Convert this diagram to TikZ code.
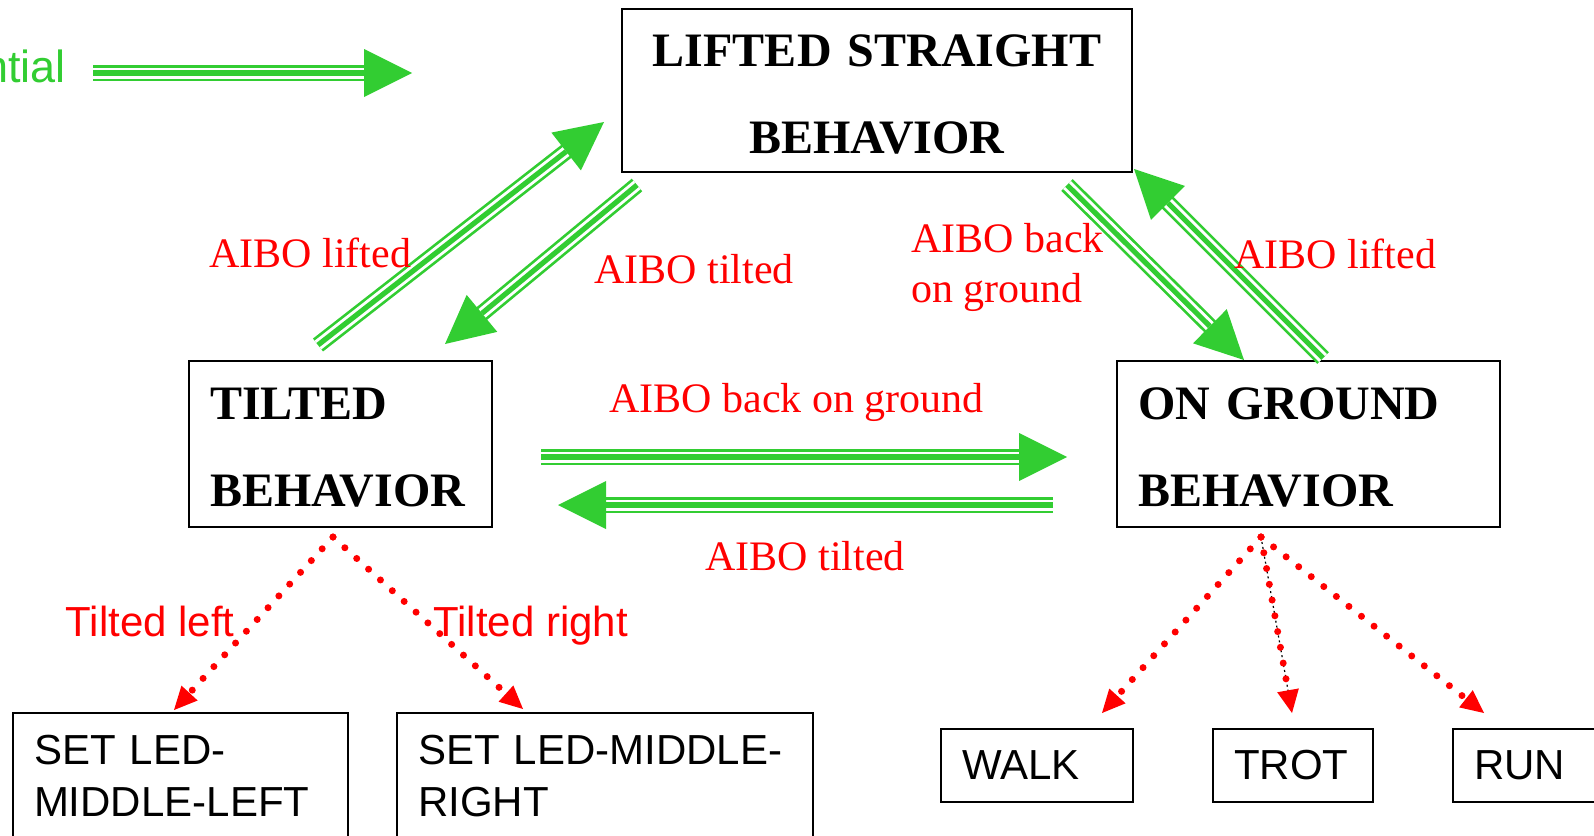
\documentclass[tikz,border=0pt]{standalone}
\usepackage{fontspec}
\setmainfont{Liberation Serif}
\setsansfont{Liberation Sans}
\usetikzlibrary{arrows.meta,calc}
\definecolor{agreen}{RGB}{50,205,50}
\newcommand{\capraise}{\rule{0pt}{19.8pt}}
\begin{document}
\begin{tikzpicture}[x=0.5pt,y=-0.5pt,
  bigbox/.style={draw=black, line width=1pt, inner xsep=10.5pt, inner ysep=0pt, outer sep=0pt,
    font=\bfseries\fontsize{24}{43.5}\selectfont},
  smallbox/.style={draw=black, line width=1pt, inner xsep=10.5pt, inner ysep=11pt, outer sep=0pt,
    align=left, font=\sffamily\fontsize{21}{26}\selectfont},
  lblserif/.style={text=red, inner sep=0pt, font=\fontsize{21}{25}\selectfont},
  lblsans/.style={text=red, inner sep=0pt, font=\sffamily\fontsize{21}{25}\selectfont},
  tri/.style={agreen, line width=2.6pt, -{Triangle[length=24pt,width=24pt,line width=0pt]},
    preaction={draw=agreen, -, line width=8.2pt, shorten >=22pt},
    preaction={draw=white, -, line width=5.5pt, shorten >=22pt}},
  dots/.style={red, line width=3.5pt, line cap=round, dash pattern=on 0pt off 8pt,
    -{Triangle[length=11.5pt,width=11pt,line width=0pt]}}
]
\useasboundingbox (0,0) rectangle (1594,835);

% main behaviour boxes
\node[bigbox, minimum width=255pt, minimum height=81.5pt, text width=234pt, align=center]
  (lifted) at (877,90.5) {\capraise LIFTED STRAIGHT\\BEHAVIOR};
\node[bigbox, minimum width=151.5pt, minimum height=83pt, text width=130.5pt, align=left]
  (tilted) at (340.5,444) {\capraise TILTED\\BEHAVIOR};
\node[bigbox, minimum width=191.5pt, minimum height=83pt, text width=170.5pt, align=left]
  (ground) at (1308.5,444) {\capraise ON GROUND\\BEHAVIOR};

% action boxes
\node[smallbox, anchor=north west, text width=146.5pt] (setleft) at (13,713) {SET LED-\\MIDDLE-LEFT};
\node[smallbox, anchor=north west, text width=187pt] (setright) at (397,713) {SET LED-MIDDLE-\\RIGHT};
\node[smallbox, inner ysep=0pt, minimum height=36.5pt, text width=75pt] (walk) at (1037,765.5) {WALK};
\node[smallbox, inner ysep=0pt, minimum height=36.5pt, text width=59pt] (trot) at (1293,765.5) {TROT};
\node[smallbox, inner ysep=0pt, minimum height=36.5pt, text width=64pt] (run) at (1538,765.5) {RUN};

% legend
\node[anchor=base east, inner sep=0pt, text=agreen, font=\sffamily\fontsize{22.5}{27}\selectfont]
  (legend) at (66,82) {ntial};

% connector end points
\coordinate (a0s) at (93,73);    \coordinate (a0e) at (412,73);
\coordinate (a1s) at (318,345);  \coordinate (a1e) at (604,122);
\coordinate (a2s) at (637,185);  \coordinate (a2e) at (445,344);
\coordinate (a3s) at (1067,185); \coordinate (a3e) at (1244,360);
\coordinate (a4s) at (1323,358); \coordinate (a4e) at (1134,169);
\coordinate (a5s) at (541,457);  \coordinate (a5e) at (1067,457);
\coordinate (a6s) at (1053,505); \coordinate (a6e) at (558,505);

\draw[tri] (a0s) -- (a0e);
\draw[tri] (a1s) -- (a1e);
\draw[tri] (a2s) -- (a2e);
\draw[tri] (a3s) -- (a3e);
\draw[tri] (a4s) -- (a4e);
\draw[tri] (a5s) -- (a5e);
\draw[tri] (a6s) -- (a6e);

% dotted sub-behaviour arrows
\coordinate (tout) at (333,537);
\coordinate (slTip) at (174,710);
\coordinate (srTip) at (523,709);
\coordinate (gout) at (1261,537);
\coordinate (wTip) at (1102,713);
\coordinate (tTip) at (1292,713);
\coordinate (rTip) at (1484,713);

\draw[dots] (tout) -- (slTip);
\draw[dots] (tout) -- (srTip);
\draw[dots] (gout) -- (wTip);
\draw[black, line width=0.6pt, dash pattern=on 1pt off 1.5pt] (gout) -- ($(tTip)!10pt!(gout)$);
\draw[dots] (gout) -- (tTip);
\draw[dots] (gout) -- (rTip);

% labels
\node[lblserif, anchor=base west] (l1) at (209,267) {AIBO lifted};
\node[lblserif, anchor=base west] (l2) at (594,283) {AIBO tilted};
\node[lblserif, anchor=north west, align=left] (l3) at (911,223) {AIBO back\\on ground};
\node[lblserif, anchor=base west] (l4) at (1234,268) {AIBO lifted};
\node[lblserif, anchor=base west] (l5) at (609,412) {AIBO back on ground};
\node[lblserif, anchor=base west] (l6) at (705,570) {AIBO tilted};
\node[lblsans, anchor=base east] (l7) at (235,636) {Tilted left};
\node[lblsans, anchor=base west] (l8) at (433,636) {Tilted right};
\end{tikzpicture}
\end{document}
